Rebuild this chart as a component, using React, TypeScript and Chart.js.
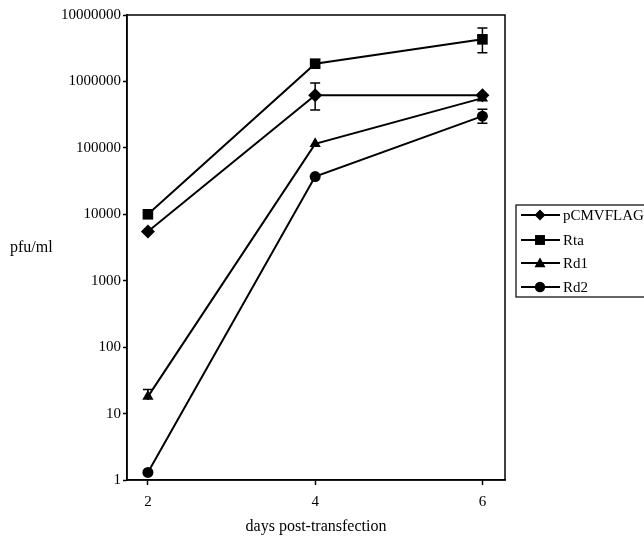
import React, { useEffect, useRef } from "react";
import { Chart, registerables } from "chart.js";

Chart.register(...registerables);

const days = [2, 4, 6];
const seriesNames = ["pCMVFLAG", "Rta", "Rd1", "Rd2"];
const pointStyles = ["rectRot", "rect", "triangle", "circle"];
const pointSizes = [7, 7.5, 6.5, 5.5];
const pCMVFLAG = [5500, 620000, 620000];
const Rta = [10000, 1850000, 4300000];
const Rd1 = [18, 115000, 560000];
const Rd2 = [1.3, 37000, 300000];
const pCMVFLAGHigh = [6300, 950000, 680000];
const pCMVFLAGLow = [4700, 370000, 560000];
const RtaHigh = [10500, 1950000, 6400000];
const RtaLow = [9500, 1750000, 2700000];
const Rd1High = [23, 125000, 600000];
const Rd1Low = [16, 105000, 520000];
const Rd2High = [1.4, 39000, 380000];
const Rd2Low = [1.2, 35000, 235000];
const yTicks = [1, 10, 100, 1000, 10000, 100000, 1000000, 10000000];
const xTicks = [2, 4, 6];

const FONT = "'Liberation Serif', 'DejaVu Serif', serif";

function marker(ctx: CanvasRenderingContext2D, style: string, x: number, y: number, r: number) {
  ctx.beginPath();
  if (style === "rectRot") {
    ctx.moveTo(x, y - r);
    ctx.lineTo(x + r, y);
    ctx.lineTo(x, y + r);
    ctx.lineTo(x - r, y);
    ctx.closePath();
  } else if (style === "rect") {
    const s = r * 0.9;
    ctx.rect(x - s, y - s, 2 * s, 2 * s);
  } else if (style === "triangle") {
    ctx.moveTo(x, y - r);
    ctx.lineTo(x + r, y + r * 0.75);
    ctx.lineTo(x - r, y + r * 0.75);
    ctx.closePath();
  } else {
    ctx.arc(x, y, r * 0.95, 0, Math.PI * 2);
  }
  ctx.fill();
}

export default function App() {
  const ref = useRef<HTMLCanvasElement>(null);
  useEffect(() => {
    const values = [pCMVFLAG, Rta, Rd1, Rd2];
    const highs = [pCMVFLAGHigh, RtaHigh, Rd1High, Rd2High];
    const lows = [pCMVFLAGLow, RtaLow, Rd1Low, Rd2Low];
    const datasets = seriesNames.map((name, i) => ({
      label: name,
      data: days.map((d, j) => ({ x: d, y: values[i][j] })),
      borderColor: "#000",
      backgroundColor: "#000",
      borderWidth: 2,
      pointStyle: pointStyles[i] as any,
      pointRadius: pointSizes[i],
      pointBorderWidth: 0,
      showLine: true,
      tension: 0,
    }));

    const extras = {
      id: "extras",
      beforeDatasetsDraw(chart: any) {
        const ctx = chart.ctx;
        const xs = chart.scales.x;
        const ys = chart.scales.y;
        ctx.save();
        ctx.strokeStyle = "#000";
        ctx.lineWidth = 1.5;
        for (let i = 0; i < seriesNames.length; i++) {
          for (let j = 0; j < days.length; j++) {
            const px = xs.getPixelForValue(days[j]);
            const pv = ys.getPixelForValue(values[i][j]);
            const yh = ys.getPixelForValue(highs[i][j]);
            const yl = ys.getPixelForValue(lows[i][j]);
            const r = pointSizes[i];
            ctx.beginPath();
            ctx.moveTo(px, yh);
            ctx.lineTo(px, yl);
            if (pv - yh > r) {
              ctx.moveTo(px - 5, yh);
              ctx.lineTo(px + 5, yh);
            }
            if (yl - pv > r) {
              ctx.moveTo(px - 5, yl);
              ctx.lineTo(px + 5, yl);
            }
            ctx.stroke();
          }
        }
        ctx.restore();
      },
      afterDraw(chart: any) {
        const ctx = chart.ctx;
        const a = chart.chartArea;
        ctx.save();
        ctx.strokeStyle = "#000";
        ctx.lineWidth = 1.5;
        ctx.strokeRect(a.left, a.top, a.right - a.left, a.bottom - a.top);
        ctx.fillStyle = "#000";
        ctx.font = `16px ${FONT}`;
        ctx.textBaseline = "middle";
        ctx.textAlign = "left";
        ctx.fillText("pfu/ml", 10, 248);
        ctx.textAlign = "center";
        ctx.fillText("days post-transfection", (a.left + a.right) / 2, 527);
        // legend
        const lx = 516, ly = 205, lh = 92;
        ctx.lineWidth = 1.2;
        ctx.strokeRect(lx, ly, 140, lh);
        ctx.font = `15px ${FONT}`;
        ctx.textAlign = "left";
        const rowY = [215, 240, 263, 287];
        for (let i = 0; i < seriesNames.length; i++) {
          const y = rowY[i];
          ctx.lineWidth = 2;
          ctx.beginPath();
          ctx.moveTo(521, y);
          ctx.lineTo(560, y);
          ctx.stroke();
          marker(ctx, pointStyles[i], 540, y, 5.5);
          ctx.fillText(seriesNames[i], 563, y + 1);
        }
        ctx.restore();
      },
    };

    const chart = new Chart(ref.current!, {
      type: "scatter",
      data: { datasets },
      options: {
        animation: false,
        responsive: false,
        devicePixelRatio: 1,
        layout: { padding: { left: 0, top: 15, right: 139, bottom: 0 } },
        plugins: { legend: { display: false }, tooltip: { enabled: false } },
        scales: {
          x: {
            type: "linear",
            min: 1.75,
            max: 6.27,
            afterBuildTicks: (s: any) => {
              s.ticks = xTicks.map((v) => ({ value: v }));
            },
            afterFit: (s: any) => {
              s.height = 64;
            },
            grid: { drawOnChartArea: false, tickLength: 5, color: "#000", tickWidth: 1.5 },
            border: { color: "#000", width: 1.5 },
            ticks: { color: "#000", font: { family: FONT, size: 15 }, padding: 8, callback: (v: any) => String(v) },
          },
          y: {
            type: "logarithmic",
            min: 1,
            max: 10000000,
            afterBuildTicks: (s: any) => {
              s.ticks = yTicks.map((v) => ({ value: v }));
            },
            afterFit: (s: any) => {
              s.width = 127;
            },
            grid: { drawOnChartArea: false, tickLength: 4, color: "#000", tickWidth: 1.5 },
            border: { color: "#000", width: 1.5 },
            ticks: { color: "#000", font: { family: FONT, size: 15 }, padding: 2, callback: (v: any) => String(v) },
          },
        },
      },
      plugins: [extras],
    });
    return () => chart.destroy();
  }, []);
  return (
    <div style={{ position: "fixed", left: 0, top: 0, width: 644, height: 544, background: "#fff" }}>
      <canvas ref={ref} width={644} height={544} />
    </div>
  );
}
